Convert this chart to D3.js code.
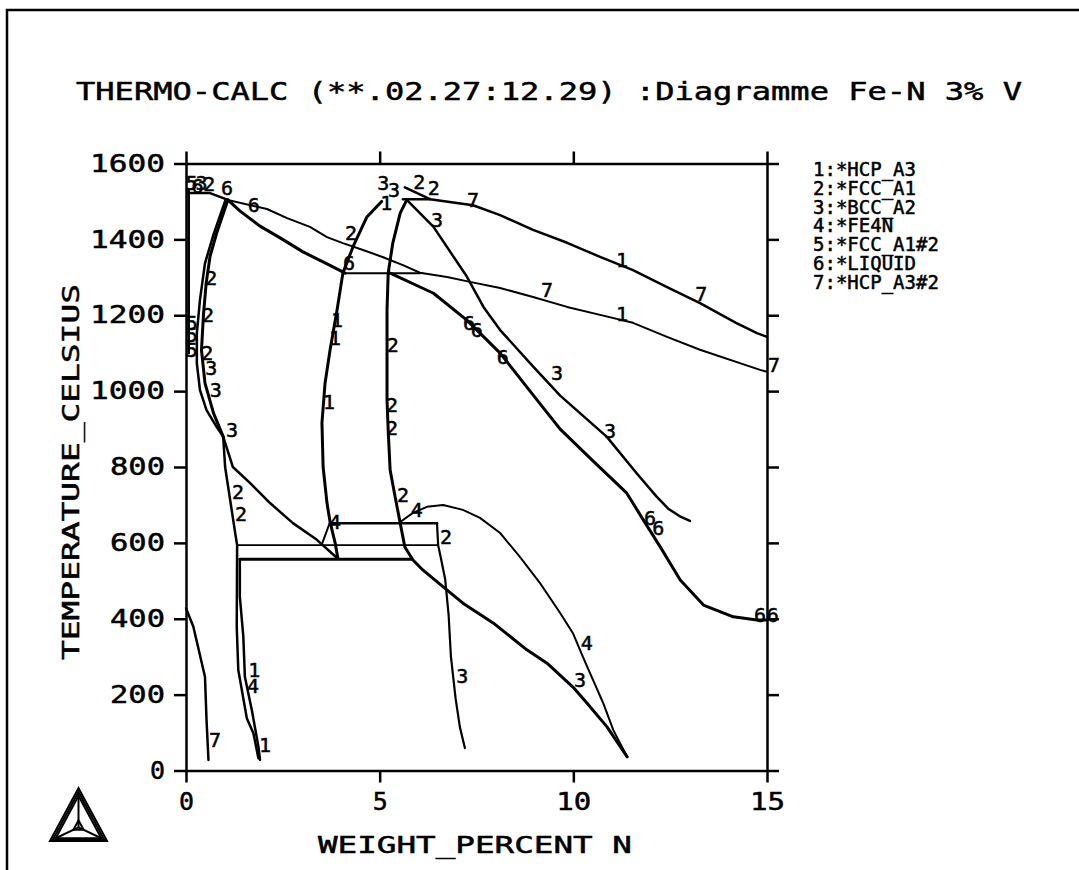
<!DOCTYPE html>
<html>
<head>
<meta charset="utf-8">
<script src="https://cdn.jsdelivr.net/npm/d3@7"></script>
<style>
html, body { margin: 0; padding: 0; background: #fff; }
svg text { font-family: "DejaVu Sans Mono", monospace; fill: #000; }
</style>
</head>
<body>
<svg id="chart" width="1079" height="870"></svg>
<script>
// ---- data (wt% N, degrees C) ----
const titleText = "THERMO-CALC (**.02.27:12.29) :Diagramme Fe-N 3% V";
const xTitle = "WEIGHT_PERCENT N";
const yTitle = "TEMPERATURE_CELSIUS";
const xTicks = [0, 5, 10, 15];
const yTicks = [0, 200, 400, 600, 800, 1000, 1200, 1400, 1600];
const legendItems = ["1:*HCP_A3", "2:*FCC_A1", "3:*BCC_A2", "4:*FE4N", "5:*FCC_A1#2", "6:*LIQUID", "7:*HCP_A3#2"];

const hcpUpper = [[5.65,1537],[6.30,1506],[7.41,1490],[8.11,1464],[8.96,1425],[9.84,1391],[10.69,1354],[11.54,1319],[12.42,1274],[13.27,1232],[14.20,1180],[14.74,1153],[15.0,1143]];
const topTie = [[5.60,1506],[6.30,1506]];
const hcpLower = [[1.08,1504],[2.09,1480],[2.61,1456],[3.20,1433],[3.64,1406],[4.05,1390],[4.57,1372],[5.09,1353],[5.60,1332],[6.04,1312],[6.74,1301],[7.33,1288],[8.11,1272],[8.96,1248],[9.84,1222],[10.69,1201],[11.54,1180],[12.42,1143],[13.27,1109],[14.82,1056],[15.0,1051]];
const liqLow = [[1.08,1504],[1.39,1475],[1.91,1435],[2.43,1404],[3.02,1367],[3.59,1338],[4.11,1311]];
const tieLiq = [[4.11,1311],[6.04,1311]];
const liquid6 = [[5.27,1311],[6.39,1258],[7.25,1187],[8.11,1100],[9.00,985],[9.66,900],[10.52,815],[11.38,731],[11.81,660],[12.24,590],[12.76,502],[13.36,436],[14.13,405],[14.74,397],[15.0,397]];
const bccRight = [[5.70,1504],[6.39,1433],[7.25,1302],[7.68,1222],[8.11,1161],[8.97,1064],[9.66,988],[10.86,880],[11.64,783],[12.15,722],[12.45,690],[12.75,670],[13.01,658]];
const fccMid = [[5.70,1504],[5.53,1469],[5.34,1391],[5.22,1311],[5.19,1214],[5.19,1109],[5.19,977],[5.22,897],[5.27,792],[5.40,721],[5.53,652],[5.65,589],[5.86,555],[6.12,528],[6.64,484],[7.15,441],[7.93,389],[8.80,318],[9.32,283],[9.99,220],[10.35,178],[10.87,115],[11.39,36]];
const fe4nCurve = [[5.53,655],[5.86,679],[6.22,695],[6.64,700],[7.15,687],[7.59,666],[8.11,626],[8.62,563],[9.14,494],[9.66,415],[9.99,362],[10.25,299],[10.51,238],[10.77,178],[11.03,107],[11.39,36]];
const fccRight = [[6.48,652],[6.51,594],[6.58,560],[6.69,505],[6.78,410],[6.84,300],[6.96,190],[7.07,115],[7.20,59]];
const hcpLeft = [[5.05,1500],[4.67,1459],[4.31,1380],[4.05,1311],[3.90,1214],[3.72,1109],[3.59,1021],[3.51,916],[3.54,800],[3.64,705],[3.72,655],[3.85,600],[3.92,560]];
const bccFccLow = [[0.96,880],[1.21,800],[1.65,758],[2.17,705],[2.76,652],[3.38,608],[3.90,560]];
const deltaA = [[1.08,1504],[0.79,1416],[0.62,1355],[0.52,1284],[0.45,1200],[0.40,1108],[0.49,1021],[0.71,942],[0.96,880]];
const deltaB = [[1.02,1504],[0.72,1416],[0.49,1337],[0.36,1240],[0.28,1152],[0.28,1073],[0.36,1003],[0.53,950],[0.79,906],[0.96,880]];
const fccLowA = [[0.96,880],[1.01,800],[1.14,713],[1.27,626],[1.32,594],[1.31,379],[1.35,265],[1.57,138],[1.74,98],[1.87,32]];
const fccLowB = [[1.39,557],[1.39,458],[1.48,353],[1.52,247],[1.70,159],[1.87,63],[1.91,28]];
const hcpLow7 = [[0.0,428],[0.19,379],[0.49,247],[0.53,133],[0.58,28]];
const edgeLine = [[0.07,1530],[0.07,1100]];
const clusterLine = [[0.05,1522],[0.62,1522],[1.08,1504]];
const tie652 = [[3.72,652],[6.48,652]];
const tie594 = [[1.32,594],[6.51,594]];
const tie557 = [[1.39,557],[5.83,557]];
const triLeg = [[3.50,594],[3.72,655]];

// phase numbers written along the lines: [text, wt%, degC]
const curveLabels = [
  ["6",1.06,1535],["6",1.75,1490],
  ["3",5.09,1549],["3",5.37,1530],["2",6.02,1551],["2",6.40,1535],["1",5.17,1496],
  ["3",6.48,1451],["7",7.41,1504],["2",4.26,1417],["6",4.21,1338],
  ["1",11.26,1346],["7",13.30,1256],["7",9.32,1266],["1",11.26,1203],["7",15.18,1069],
  ["1",3.90,1187],["1",3.85,1140],["1",3.69,971],
  ["2",5.34,1122],["2",5.32,963],["2",5.32,903],
  ["6",7.31,1179],["6",7.51,1161],["6",8.18,1090],
  ["3",9.58,1048],["3",10.95,895],
  ["6",11.98,666],["6",12.19,639],["6",14.82,410],["6",15.15,410],
  ["2",1.34,734],["2",1.42,676],["4",3.85,655],["2",5.60,726],["4",5.96,687],["2",6.71,615],
  ["3",7.13,249],["4",10.35,336],["3",10.17,239],
  ["1",1.76,265],["4",1.73,223],["1",2.04,67],["7",0.75,80],
  ["3",1.19,897],["3",0.65,1061],["3",0.77,1003],
  ["2",0.65,1298],["2",0.57,1201],["5",0.15,1180],["5",0.15,1148],["5",0.15,1108],["2",0.55,1100],
  ["5",0.15,1548],["3",0.40,1548],["2",0.60,1545],["6",0.30,1540]
];

// ---- drawing ----
const svg = d3.select("#chart");

const x = d3.scaleLinear().domain([0, 15]).range([186, 767]);
const y = d3.scaleLinear().domain([0, 1600]).range([770.5, 163.5]);

// outer border (top and left only are visible)
svg.append("path")
  .attr("d", "M7,870V10H1079")
  .attr("fill", "none").attr("stroke", "#000").attr("stroke-width", 2.5);

// title
svg.append("text")
  .attr("x", 549).attr("y", 100)
  .attr("text-anchor", "middle")
  .attr("textLength", 946).attr("lengthAdjust", "spacingAndGlyphs")
  .attr("stroke", "#000").attr("stroke-width", 0.5)
  .style("font-size", "25px")
  .text(titleText);

// axes
const axes = svg.append("g");
axes.append("g").attr("transform", `translate(${x(0)},0)`)
  .call(d3.axisLeft(y).tickValues(yTicks).tickSize(12).tickSizeOuter(0).tickPadding(9).tickFormat(d3.format("d")));
axes.append("g").attr("transform", `translate(${x(15)},0)`)
  .call(d3.axisRight(y).tickValues(yTicks).tickSize(12).tickSizeOuter(0).tickFormat(() => ""));
axes.append("g").attr("transform", `translate(0,${y(0)})`)
  .call(d3.axisBottom(x).tickValues(xTicks).tickSize(12).tickSizeOuter(0).tickPadding(10).tickFormat(d3.format("d")));
axes.append("g").attr("transform", `translate(0,${y(1600)})`)
  .call(d3.axisTop(x).tickValues(xTicks).tickSize(12).tickSizeOuter(0).tickFormat(() => ""));

axes.selectAll("path, line").attr("stroke", "#000").attr("stroke-width", 2.5);
axes.selectAll("text")
  .style("font-size", "24px")
  .attr("fill", "#000")
  .attr("stroke", "#000").attr("stroke-width", 0.5)
  .attr("textLength", d => String(d).length * 20 - 5)
  .attr("lengthAdjust", "spacingAndGlyphs");

// axis titles
svg.append("text")
  .attr("x", 475).attr("y", 853)
  .attr("text-anchor", "middle")
  .attr("textLength", 314).attr("lengthAdjust", "spacingAndGlyphs")
  .attr("stroke", "#000").attr("stroke-width", 0.5)
  .style("font-size", "23px")
  .text(xTitle);

svg.append("text")
  .attr("transform", "translate(79,472) rotate(-90)")
  .attr("text-anchor", "middle")
  .attr("textLength", 376).attr("lengthAdjust", "spacingAndGlyphs")
  .attr("stroke", "#000").attr("stroke-width", 0.5)
  .style("font-size", "23px")
  .text(yTitle);

// phase boundaries
const line = d3.line().x(d => x(d[0])).y(d => y(d[1]));
const layers = [
  [hcpUpper, 2.5], [topTie, 2.5], [hcpLower, 2], [liqLow, 3], [tieLiq, 2],
  [liquid6, 3], [bccRight, 2.5], [fccMid, 3], [fe4nCurve, 2], [fccRight, 2.2],
  [hcpLeft, 3], [bccFccLow, 2.5], [deltaA, 3], [deltaB, 2.5], [fccLowA, 2.5],
  [fccLowB, 2.5], [hcpLow7, 2.5], [edgeLine, 2.5], [clusterLine, 2.5],
  [tie652, 2.5], [tie594, 1.6], [tie557, 3], [triLeg, 2]
];
svg.append("g").selectAll("path")
  .data(layers)
  .join("path")
  .attr("d", d => line(d[0]))
  .attr("fill", "none")
  .attr("stroke", "#000")
  .attr("stroke-width", d => d[1])
  .attr("stroke-linejoin", "round")
  .attr("stroke-linecap", "round");

// numbers on the lines
svg.append("g").selectAll("text")
  .data(curveLabels)
  .join("text")
  .attr("x", d => x(d[1]))
  .attr("y", d => y(d[2]))
  .attr("text-anchor", "middle")
  .attr("dominant-baseline", "central")
  .attr("stroke", "#000").attr("stroke-width", 0.5)
  .style("font-size", "20px")
  .text(d => d[0]);

// legend
svg.append("g").selectAll("text")
  .data(legendItems)
  .join("text")
  .attr("x", 813)
  .attr("y", (d, i) => 176 + i * 18.8)
  .attr("stroke", "#000").attr("stroke-width", 0.5)
  .style("font-size", "19px")
  .text(d => d);

// Thermo-Calc logo
const A = [50, 841], B = [107, 841], C = [78.5, 788];
const cen = [(A[0] + B[0] + C[0]) / 3, (A[1] + B[1] + C[1]) / 3 + 4];
const shrink = (p, k) => [cen[0] + (p[0] - cen[0]) * k, cen[1] + (p[1] - cen[1]) * k];
const logo = svg.append("g").attr("fill", "none").attr("stroke", "#000").attr("stroke-width", 2);
[1, 0.9, 0.8, 0.18].forEach(k => {
  logo.append("path").attr("d", d3.line()([shrink(A, k), shrink(B, k), shrink(C, k)]) + "Z");
});
[A, B, C].forEach(p => {
  logo.append("path").attr("d", d3.line()([cen, shrink(p, 0.8)]));
});
</script>
</body>
</html>
